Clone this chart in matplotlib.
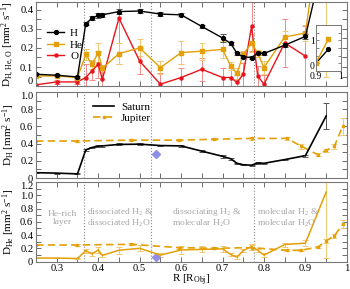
import numpy as np
import matplotlib
matplotlib.use("Agg")
import matplotlib.pyplot as plt
from matplotlib.ticker import MultipleLocator

plt.rcParams["font.family"] = ["Liberation Serif", "DejaVu Serif"]
plt.rcParams["mathtext.fontset"] = "custom"
plt.rcParams["mathtext.rm"] = "Liberation Serif"
plt.rcParams["mathtext.it"] = "Liberation Serif:italic"

# Saturn simulation: radius and diffusion coefficients
R_sat = [0.25, 0.30, 0.35, 0.37, 0.385, 0.40, 0.41, 0.45, 0.50, 0.55, 0.60, 0.65,
         0.70, 0.72, 0.735, 0.75, 0.77, 0.785, 0.80, 0.85, 0.90, 0.95]
D_H = [0.062, 0.057, 0.048, 0.327, 0.355, 0.370, 0.373, 0.390, 0.393, 0.377, 0.373, 0.312,
       0.252, 0.223, 0.171, 0.154, 0.149, 0.174, 0.171, 0.214, 0.260, 0.72]
D_H_err = [0.008, 0.006, 0.006, 0.008, 0.010, 0.012, 0.010, 0.012, 0.012, 0.010, 0.008, 0.008,
           0.020, 0.010, 0.006, 0.006, 0.006, 0.008, 0.006, 0.010, 0.012, 0.15]
D_He = [0.053, 0.053, 0.045, 0.166, 0.114, 0.175, 0.093, 0.170, 0.200, 0.097, 0.175, 0.183,
        0.192, 0.105, 0.067, 0.166, 0.226, 0.171, 0.097, 0.257, 0.278, 1.05]
D_He_err = [0.006, 0.006, 0.006, 0.030, 0.025, 0.050, 0.020, 0.055, 0.045, 0.035, 0.060, 0.045,
            0.045, 0.020, 0.030, 0.020, 0.045, 0.020, 0.035, 0.030, 0.040, 1.0]
D_O = [0.007, 0.022, 0.022, 0.045, 0.080, 0.114, 0.036, 0.356, 0.131, 0.010, 0.045, 0.088,
       0.045, 0.045, 0.019, 0.062, 0.312, 0.053, 0.010, 0.226, 0.157, np.nan]
D_O_err = [0.004, 0.010, 0.010, 0.070, 0.050, 0.070, 0.050, 0.240, 0.070, 0.060, 0.050, 0.060,
           0.050, 0.050, 0.040, 0.060, 0.130, 0.050, 0.050, 0.125, 0.160, np.nan]

# Jupiter simulation
R_jup = [0.25, 0.35, 0.48, 0.595, 0.68, 0.77, 0.855, 0.89, 0.93, 0.95, 0.97, 0.99]
J_H = [0.43, 0.43, 0.44, 0.44, 0.45, 0.46, 0.46, 0.37, 0.27, 0.32, 0.37, 0.60]
J_H_err = [0.0, 0.015, 0.015, 0.010, 0.010, 0.015, 0.015, 0.030, 0.020, 0.020, 0.030, 0.10]
J_He = [0.25, 0.25, 0.26, 0.21, 0.20, 0.21, 0.17, 0.17, 0.22, 0.31, 0.39, 0.56]
J_He_err = [0.0, 0.015, 0.015, 0.015, 0.015, 0.040, 0.015, 0.015, 0.020, 0.030, 0.030, 0.060]

# Reference value (diamond)
ref_R = [0.54]
ref_H = [0.28]
ref_He = [0.07]

boundaries = [0.366, 0.527, 0.776]
regions = [(0.313, "He-rich\nlayer", "center"),
           (0.374, "dissociated H$_2$ &\ndissociated H$_2$O", "left"),
           (0.577, "dissociating H$_2$ &\nmolecular H$_2$O", "left"),
           (0.784, "molecular H$_2$ &\nmolecular H$_2$O", "left")]

BLACK = "#000000"
GOLD = "#e3a008"
RED = "#e8141c"
DIAMOND = "#8f8fe6"
GREY = "#a8a8a8"
FS = 8
TFS = 7.6

fig = plt.figure(figsize=(3.5, 2.89), dpi=100)
ax1 = fig.add_axes([0.103, 0.702, 0.888, 0.291])
ax2 = fig.add_axes([0.103, 0.384, 0.888, 0.298])
ax3 = fig.add_axes([0.103, 0.095, 0.888, 0.275])


def style(ax, ymax, ystep):
    ax.set_xlim(0.25, 1.0)
    ax.set_ylim(0, ymax)
    ax.xaxis.set_major_locator(MultipleLocator(0.1))
    ax.xaxis.set_minor_locator(MultipleLocator(0.05))
    ax.yaxis.set_major_locator(MultipleLocator(ystep))
    ax.yaxis.set_minor_locator(MultipleLocator(ystep / 2))
    ax.tick_params(which="both", direction="in", top=True, right=True,
                   labelsize=TFS, length=3.5, width=0.6, color="#555555", pad=2)
    for s in ax.spines.values():
        s.set_color("#777777")
        s.set_linewidth(0.8)
    for b in boundaries:
        ax.axvline(b, color="#888888", ls=":", lw=0.8, zorder=0)


# top panel
style(ax1, 0.44, 0.1)
ax1.errorbar(R_sat, D_O, yerr=D_O_err, color=RED, lw=1.0, marker="o", ms=2.2,
             ecolor="#f08a8a", elinewidth=0.7, capsize=2.5, capthick=0.7, label="O")
ax1.errorbar(R_sat, D_He, yerr=D_He_err, color=GOLD, lw=1.0, marker="s", ms=2.5,
             ecolor="#f0c870", elinewidth=0.7, capsize=2.5, capthick=0.7, label="He")
ax1.errorbar(R_sat, D_H, yerr=D_H_err, color=BLACK, lw=1.0, marker="o", ms=2.8,
             ecolor="#555555", elinewidth=0.7, capsize=2.5, capthick=0.7, label="H")
ax1.set_xticklabels([])
ax1.set_yticks([0, 0.1, 0.2, 0.3, 0.4])
ax1.set_yticklabels(["0", "0.1", "0.2", "0.3", "0.4"])
ax1.set_ylabel("D$_{\\rm H,\\, He,\\, O}$ [mm$^2$ s$^{-1}$]", fontsize=FS, labelpad=2)
h, l = ax1.get_legend_handles_labels()
ax1.legend([hh[0] for hh in h[::-1]], l[::-1], loc="upper left", bbox_to_anchor=(0.02, 0.74),
           frameon=False, fontsize=FS, handlelength=1.6, borderaxespad=0.0,
           labelspacing=0.15, handletextpad=0.5)
ax1.get_yticklabels()[0].set_verticalalignment("bottom")

# inset
axi = fig.add_axes([0.903, 0.754, 0.071, 0.159])
axi.plot(R_sat[-2:], D_H[-2:], color=BLACK, lw=1.0, marker="o", ms=2.8)
axi.plot(R_sat[-2:], D_He[-2:], color=GOLD, lw=1.0, marker="s", ms=2.5)
axi.set_xlim(0.9, 1.0)
axi.set_ylim(0, 1.5)
axi.set_xticks([0.9, 1.0])
axi.set_xticklabels(["0.9", "1"])
axi.set_yticks([0, 1])
axi.set_yticklabels(["0", "1"])
axi.yaxis.set_minor_locator(MultipleLocator(0.25))
axi.tick_params(which="both", direction="in", labelsize=7, length=2, width=0.5,
                right=True, top=True, pad=1, color="#555555")
axi.get_yticklabels()[0].set_verticalalignment("bottom")
for s in axi.spines.values():
    s.set_color("#777777")
    s.set_linewidth(0.7)

# middle panel
style(ax2, 1.0, 0.2)
ax2.errorbar(R_jup, J_H, yerr=J_H_err, color=GOLD, ls="--", lw=1.2, marker="s", ms=1.8,
             ecolor="#f0c870", elinewidth=0.7, capsize=2.5, capthick=0.7, label="Jupiter",
             dashes=(4.5, 2.5))
ax2.errorbar(R_sat, D_H, yerr=D_H_err, color=BLACK, lw=1.2, marker="", ms=0,
             ecolor="#555555", elinewidth=0.7, capsize=2.5, capthick=0.7, label="Saturn")
ax2.plot(ref_R, ref_H, ls="", marker="D", ms=4, color=DIAMOND)
ax2.set_xticklabels([])
ax2.set_yticks([0, 0.2, 0.4, 0.6, 0.8, 1.0])
ax2.set_yticklabels(["0", "0.2", "0.4", "0.6", "0.8", "1.0"])
ax2.set_ylabel("D$_{\\rm H}$ [mm$^2$ s$^{-1}$]", fontsize=FS, labelpad=2)
h, l = ax2.get_legend_handles_labels()
ax2.legend([hh[0] for hh in h[::-1]], l[::-1], loc="upper left", bbox_to_anchor=(0.17, 0.93),
           frameon=False, fontsize=FS, handlelength=1.9, borderaxespad=0.0,
           labelspacing=0.1, handletextpad=0.6)
ax2.get_yticklabels()[-1].set_verticalalignment("top")

# bottom panel
style(ax3, 1.2, 0.2)
ax3.errorbar(R_jup, J_He, yerr=J_He_err, color=GOLD, ls="--", lw=1.2, marker="s", ms=1.8,
             ecolor="#f0c870", elinewidth=0.7, capsize=2.5, capthick=0.7, dashes=(4.5, 2.5))
ax3.errorbar(R_sat, D_He, yerr=D_He_err, color=GOLD, lw=1.1, marker="", ms=0,
             ecolor="#f0c870", elinewidth=0.7, capsize=2.5, capthick=0.7)
ax3.plot(ref_R, ref_He, ls="", marker="D", ms=4, color=DIAMOND)
ax3.set_yticks([0, 0.2, 0.4, 0.6, 0.8, 1.0, 1.2])
ax3.set_yticklabels(["0", "0.2", "0.4", "0.6", "0.8", "1.0", "1.2"])
ax3.get_yticklabels()[-1].set_verticalalignment("top")
ax3.set_xticks([0.3, 0.4, 0.5, 0.6, 0.7, 0.8, 0.9, 1.0])
ax3.set_xticklabels(["0.3", "0.4", "0.5", "0.6", "0.7", "0.8", "0.9", "1"])
ax3.set_ylabel("D$_{\\rm He}$ [mm$^2$ s$^{-1}$]", fontsize=FS, labelpad=2)
ax3.set_xlabel("R [R$_{\\rm Obj}$]", fontsize=FS, labelpad=0)
for xr, txt, ha in regions:
    ax3.text(xr, 0.66, txt, color=GREY, fontsize=6.8, ha=ha, va="center",
             linespacing=1.0)

fig.savefig("out.png", dpi=100)
